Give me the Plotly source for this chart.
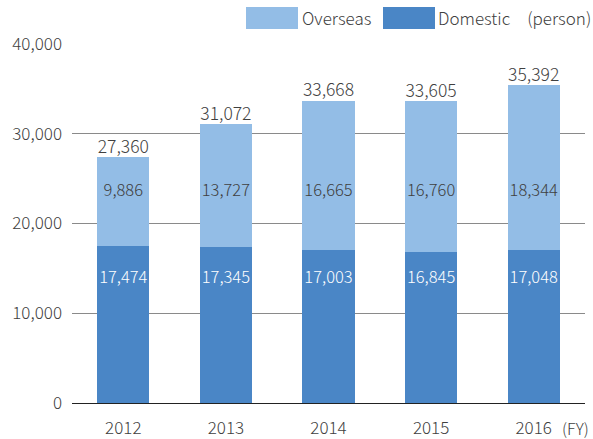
import plotly.graph_objects as go

years = ["2012", "2013", "2014", "2015", "2016"]
domestic = [17474, 17345, 17003, 16845, 17048]
overseas = [9886, 13727, 16665, 16760, 18344]
totals = [27360, 31072, 33668, 33605, 35392]
y_ticks = [0, 10000, 20000, 30000, 40000]

DOM_C = "#4a86c6"
OVS_C = "#93bde6"
TXT = "#404040"
FONT = "Noto Sans CJK JP"
W = 300

fmt = lambda v: f"{v:,}"

fig = go.Figure()
fig.add_bar(x=years, y=domestic, marker=dict(color=DOM_C, line=dict(width=0)),
            width=0.51, name="Domestic", hoverinfo="skip")
fig.add_bar(x=years, y=overseas, marker=dict(color=OVS_C, line=dict(width=0)),
            width=0.51, name="Overseas", hoverinfo="skip")

# labels inside bars (placed at fixed heights as in the reference)
dom_label_y = 13800
ovs_label_y = 23500
fig.add_scatter(x=years, y=[dom_label_y] * len(years), mode="text",
                text=[fmt(v) for v in domestic],
                textfont=dict(color="white", size=16.5, family=FONT, weight=W),
                hoverinfo="skip", showlegend=False)
fig.add_scatter(x=years, y=[ovs_label_y] * len(years), mode="text",
                text=[fmt(v) for v in overseas],
                textfont=dict(color=TXT, size=16.5, family=FONT, weight=W),
                hoverinfo="skip", showlegend=False)
fig.add_scatter(x=years, y=totals, mode="text", textposition="top center",
                text=[fmt(v) for v in totals],
                textfont=dict(color=TXT, size=17.5, family=FONT, weight=W),
                hoverinfo="skip", showlegend=False)

# custom legend
def px_x(p):
    return (p - 72) / 513
def px_y(p):
    return (403 - p) / 359

fig.add_shape(type="rect", xref="paper", yref="paper",
              x0=px_x(246), x1=px_x(298), y0=px_y(29), y1=px_y(7),
              fillcolor=OVS_C, line=dict(width=0))
fig.add_shape(type="rect", xref="paper", yref="paper",
              x0=px_x(383), x1=px_x(435), y0=px_y(29), y1=px_y(7),
              fillcolor=DOM_C, line=dict(width=0))
fig.add_annotation(xref="paper", yref="paper", x=px_x(300), y=px_y(18),
                   xanchor="left", yanchor="middle", showarrow=False,
                   text="Overseas", font=dict(color=TXT, size=17, family=FONT, weight=W))
fig.add_annotation(xref="paper", yref="paper", x=px_x(436), y=px_y(18),
                   xanchor="left", yanchor="middle", showarrow=False,
                   text="Domestic\u3000(person)", font=dict(color=TXT, size=17, family=FONT, weight=W))
fig.add_annotation(xref="paper", yref="paper", x=px_x(591), y=px_y(428),
                   xanchor="right", yanchor="middle", showarrow=False,
                   text="(FY)", font=dict(color=TXT, size=16, family=FONT, weight=W))

fig.update_layout(
    width=593, height=439,
    margin=dict(l=72, r=8, t=44, b=36),
    barmode="stack",
    bargap=0.49,
    showlegend=False,
    plot_bgcolor="white", paper_bgcolor="white",
    font=dict(family=FONT, color=TXT, size=16, weight=W),
    xaxis=dict(type="category", showgrid=False, showline=True, linecolor="#222",
               linewidth=1, ticks="", tickfont=dict(size=17, color=TXT, weight=W),
               ticklabelstandoff=10, automargin=False),
    yaxis=dict(range=[0, 40000], tickvals=y_ticks,
               ticktext=[fmt(v) for v in y_ticks], showgrid=True,
               gridcolor="#8a8a8a", gridwidth=1, zeroline=False,
               tickfont=dict(size=17, color=TXT, weight=W), ticklabelstandoff=9,
               fixedrange=True, automargin=False),
)

fig.write_html("out.html", config={"displayModeBar": False, "staticPlot": True},
               post_script="document.body.style.margin='0';document.body.style.padding='0';document.body.style.overflow='hidden';")
